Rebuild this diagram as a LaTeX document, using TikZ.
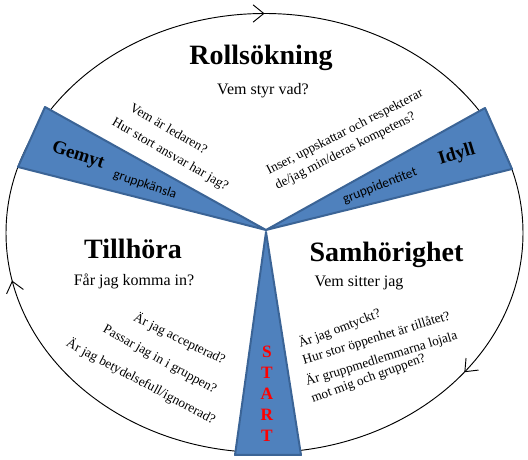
\documentclass[tikz,border=0pt]{standalone}
\usepackage{fontspec}
\setmainfont{Liberation Serif}
\newfontfamily\tagfont{Carlito}
\usetikzlibrary{arrows.meta,decorations.markings}
\definecolor{wedgeblue}{HTML}{4F81BD}
\definecolor{wedgeline}{HTML}{3B6496}
\definecolor{startred}{HTML}{FF0000}

\begin{document}
\begin{tikzpicture}[x=0.75pt,y=0.75pt,
  ring/.style={draw=black,line width=0.7pt,
    decoration={markings,
      mark=at position 0.25 with {\arrowreversed{Straight Barb[length=8pt,width=13pt]}},
      mark=at position 0.532 with {\arrowreversed{Straight Barb[length=8pt,width=13pt]}},
      mark=at position 0.897 with {\arrowreversed{Straight Barb[length=8pt,width=13pt]}}},
    postaction={decorate}},
  wedge/.style={fill=wedgeblue,draw=wedgeline,line width=1.5pt,line join=round},
  phasetitle/.style={font=\fontsize{21}{24}\selectfont\bfseries,anchor=base},
  question/.style={font=\fontsize{12}{14}\selectfont,anchor=base},
  ask/.style={font=\fontsize{10}{12}\selectfont,inner sep=0pt},
  mood/.style={font=\fontsize{14}{16}\selectfont\bfseries,inner sep=0pt},
  feel/.style={font=\tagfont\fontsize{10}{12}\selectfont,inner sep=0pt},
  startlbl/.style={font=\fontsize{13}{15.75}\selectfont\bfseries,
                   text=startred,align=center}
]
  \useasboundingbox (0,0) rectangle (528,460);

  % ---- The cycle ------------------------------------------------
  \draw[ring] (264.5,227) ellipse [x radius=193.875pt, y radius=164.625pt];

  % ---- Wedges -----------------------------------------------------
  \coordinate (hub)   at (266,230);
  \coordinate (gemA)  at (45,353);
  \coordinate (gemB)  at (18,293);
  \coordinate (idyA)  at (485,352);
  \coordinate (idyB)  at (512,291);
  \coordinate (stTip) at (266,228);
  \coordinate (stL)   at (235,5);
  \coordinate (stR)   at (301,5);

  \draw[wedge] (hub) -- (gemA) -- (gemB) -- cycle;
  \draw[wedge] (hub) -- (idyA) -- (idyB) -- cycle;
  \draw[wedge] (stTip) -- (stL) -- (stR) -- cycle;

  \node[mood,rotate=-18] (gemyt)    at (78,304)  {Gemyt};
  \node[feel,rotate=-19] (gemytsub) at (145,275) {gruppkänsla};
  \node[mood,rotate=17]  (idyll)    at (457,305) {Idyll};
  \node[feel,rotate=21]  (idyllsub) at (380,274) {gruppidentitet};
  \node[startlbl]        (start)    at (267,66)  {S\\T\\A\\R\\T};

  % ---- Phase titles -------------------------------------------
  \node[phasetitle] (roll)  at (261,395)   {Rollsökning};
  \node[question]   (rollq) at (263,365)   {Vem styr vad?};
  \node[phasetitle] (till)  at (133,201)   {Tillhöra};
  \node[question]   (tillq) at (134,174)   {Får jag komma in?};
  \node[phasetitle] (samh)  at (386.5,198) {Samhörighet};
  \node[question]   (samhq) at (359,173)   {Vem sitter jag};

  % ---- Questions per phase ------------------------------------
  % Rollsökning
  \node[ask,rotate=-30] (roll1) at (169,331.5) {Vem är ledaren?};
  \node[ask,rotate=-30] (roll2) at (170,305)   {Hur stort ansvar har jag?};
  \node[ask,rotate=27]  (roll3) at (345,327.5) {Inser, uppskattar och respekterar};
  \node[ask,rotate=27]  (roll4) at (345.5,308.5) {de/jag min/deras kompetens?};
  % Tillhöra
  \node[ask,rotate=-26] (till1) at (179.5,121) {Är jag accepterad?};
  \node[ask,rotate=-29] (till2) at (159.5,100) {Passar jag in i gruppen?};
  \node[ask,rotate=-28] (till3) at (141,78.5)  {Är jag betydelsefull/ignorerad?};
  % Samhörighet
  \node[ask,rotate=21] (samh1) at (339.5,131.5) {Är jag omtyckt?};
  \node[ask,rotate=17] (samh2) at (376.5,121.5) {Hur stor öppenhet är tillåtet?};
  \node[ask,rotate=17] (samh3) at (381.5,101.5) {Är gruppmedlemmarna lojala};
  \node[ask,rotate=20] (samh4) at (368.5,81)    {mot mig och gruppen?};

\end{tikzpicture}
\end{document}
